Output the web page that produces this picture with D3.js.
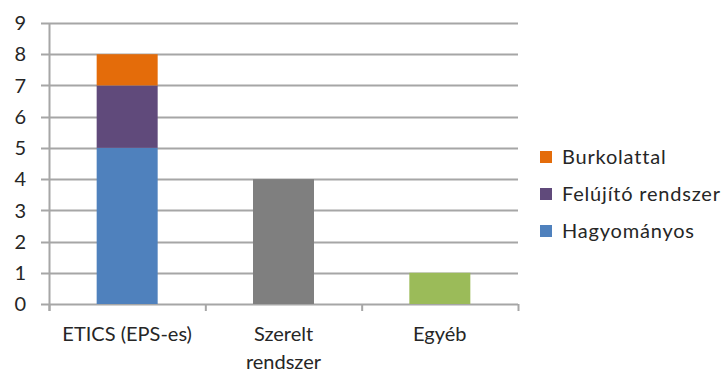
<!DOCTYPE html>
<html>
<head>
<meta charset="utf-8">
<script src="https://cdn.jsdelivr.net/npm/d3@7.9.0/dist/d3.min.js"></script>
<style>
  body { margin: 0; background: #fff; }
  text { font-family: Lato, "Open Sans", sans-serif; fill: #262626; }
</style>
</head>
<body>
<script>
// ** Data **
const categories = ["ETICS (EPS-es)", "Szerelt rendszer", "Egyéb"];
const hagyomanyos = [5, 0, 0];
const felujito = [2, 0, 0];
const burkolattal = [1, 0, 0];
const szerelt = [0, 4, 0];
const egyeb = [0, 0, 1];
const yTicks = [0, 1, 2, 3, 4, 5, 6, 7, 8, 9];

const seriesList = [
    { key: "Hagyományos", values: hagyomanyos, color: "#4F81BD", legend: true },
    { key: "Felújító rendszer", values: felujito, color: "#604A7B", legend: true },
    { key: "Burkolattal", values: burkolattal, color: "#E46C0A", legend: true },
    { key: "Szerelt", values: szerelt, color: "#7F7F7F", legend: false },
    { key: "Egyéb", values: egyeb, color: "#9BBB59", legend: false }
];

const rows = categories.map((c, i) => {
    const r = { cat: c };
    seriesList.forEach(s => r[s.key] = s.values[i]);
    return r;
});
const stacked = d3.stack().keys(seriesList.map(s => s.key))(rows);

// ** SVG Setup **
const width = 726, height = 376;
const plot = { left: 49, right: 518, top: 23, bottom: 304 };

const svg = d3.select("body").append("svg")
    .attr("width", width)
    .attr("height", height);

const x = d3.scaleBand()
    .domain(categories)
    .range([plot.left, plot.right])
    .paddingInner(0)
    .paddingOuter(0);

const y = d3.scaleLinear()
    .domain([0, 9])
    .range([plot.bottom, plot.top]);

const barW = 61;

// ** Gridlines **
svg.append("g")
    .selectAll("line")
    .data(yTicks)
    .enter()
    .append("line")
    .attr("x1", plot.left - 8)
    .attr("x2", plot.right)
    .attr("y1", d => Math.round(y(d)) + 0.5)
    .attr("y2", d => Math.round(y(d)) + 0.5)
    .attr("stroke", "#A6A6A6")
    .attr("stroke-width", 2);

// ** Bars **
const colorOf = d3.scaleOrdinal()
    .domain(seriesList.map(s => s.key))
    .range(seriesList.map(s => s.color));

svg.append("g")
    .selectAll("g")
    .data(stacked)
    .enter()
    .append("g")
    .attr("fill", d => colorOf(d.key))
    .selectAll("rect")
    .data(d => d.filter(v => v[1] - v[0] > 0))
    .enter()
    .append("rect")
    .attr("x", d => x(d.data.cat) + (x.bandwidth() - barW) / 2)
    .attr("width", barW)
    .attr("y", d => y(d[1]))
    .attr("height", d => y(d[0]) - y(d[1]));

// ** Axes lines **
svg.append("line")
    .attr("x1", plot.left + 0.5).attr("x2", plot.left + 0.5)
    .attr("y1", plot.top).attr("y2", plot.bottom + 7)
    .attr("stroke", "#A6A6A6").attr("stroke-width", 2);

const xTickPos = categories.map(c => x(c)).concat([x(categories[categories.length - 1]) + x.bandwidth()]);
svg.append("g")
    .selectAll("line")
    .data(xTickPos)
    .enter()
    .append("line")
    .attr("x1", d => d + 0.5).attr("x2", d => d + 0.5)
    .attr("y1", plot.bottom).attr("y2", plot.bottom + 7)
    .attr("stroke", "#A6A6A6").attr("stroke-width", 2);

// ** Y tick labels **
svg.append("g")
    .selectAll("text")
    .data(yTicks)
    .enter()
    .append("text")
    .attr("x", 26)
    .attr("y", d => y(d))
    .attr("dy", "0.36em")
    .attr("text-anchor", "end")
    .style("font-size", "20px")
    .text(d => d);

// ** Category labels **
const catLines = { "Szerelt rendszer": ["Szerelt", "rendszer"] };
const catG = svg.append("g")
    .selectAll("text")
    .data(categories)
    .enter()
    .append("text")
    .attr("x", d => x(d) + x.bandwidth() / 2)
    .attr("y", 341)
    .attr("text-anchor", "middle")
    .style("font-size", "20px");

catG.selectAll("tspan")
    .data(d => catLines[d] || [d])
    .enter()
    .append("tspan")
    .attr("x", function () { return d3.select(this.parentNode).attr("x"); })
    .attr("dy", (d, i) => i === 0 ? 0 : 28)
    .text(d => d);

// ** Legend **
const legendItems = seriesList.filter(s => s.legend).reverse();
const legend = svg.append("g")
    .selectAll("g")
    .data(legendItems)
    .enter()
    .append("g")
    .attr("transform", (d, i) => `translate(540, ${157 + i * 37})`);

legend.append("rect")
    .attr("x", 0)
    .attr("y", -6)
    .attr("width", 12)
    .attr("height", 12)
    .attr("fill", d => d.color);

legend.append("text")
    .attr("x", 22)
    .attr("y", 0)
    .attr("dy", "0.36em")
    .style("font-size", "20px")
    .style("letter-spacing", "0.8px")
    .text(d => d.key);
</script>
</body>
</html>
